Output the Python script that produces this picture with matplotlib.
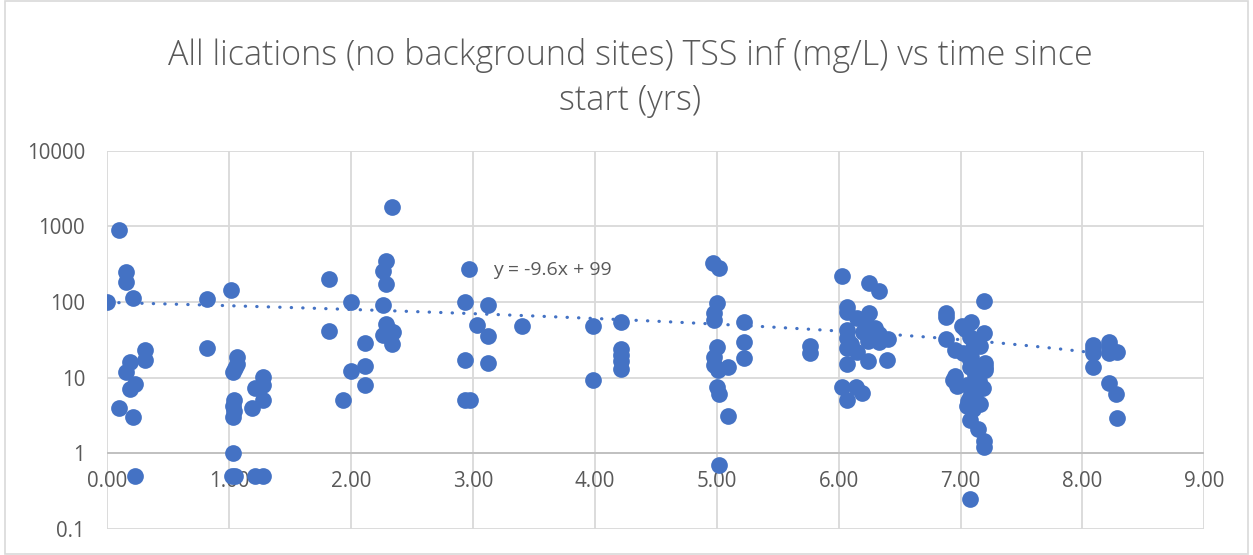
import matplotlib
matplotlib.use("Agg")
import matplotlib.pyplot as plt
import numpy as np
from matplotlib.patches import Rectangle

# ---- data ----
years = [
    0.0, 0.10, 0.15, 0.15, 0.21, 0.31, 0.31, 0.19, 0.15, 0.19, 0.23, 0.10, 0.21, 0.23,
    0.815, 1.015, 0.815, 1.06, 1.06, 1.03, 1.05, 1.04, 1.03, 1.04, 1.03, 1.035, 1.02, 1.05,
    1.21, 1.28, 1.28, 1.21, 1.28, 1.275, 1.19,
    1.816, 1.816, 1.936, 1.999, 2.0, 2.117, 2.116, 2.116, 2.338, 2.286, 2.264, 2.286, 2.264,
    2.286, 2.30, 2.341, 2.264, 2.333,
    2.97, 2.934, 3.126, 3.035, 3.12, 2.934, 3.12, 2.934, 2.975, 3.40, 3.987, 3.987,
    4.214, 4.214, 4.214, 4.214, 4.214,
    4.971, 5.021, 5.004, 4.977, 4.977, 5.223, 5.223, 5.223, 5.004, 4.977, 4.977, 5.012,
    5.09, 5.004, 5.021, 5.09, 5.021, 5.765, 5.765,
    6.03, 6.249, 6.33, 6.066, 6.07, 6.249, 6.148, 6.22, 6.30, 6.066, 6.249, 6.407, 6.066,
    6.24, 6.33, 6.066, 6.148, 6.07, 6.238, 6.40, 6.03, 6.14, 6.19, 6.066, 6.20, 6.33, 6.10, 6.27,
    7.192, 6.878, 6.878, 7.09, 7.01, 7.036, 7.192, 7.078, 6.878, 7.146, 7.16, 6.955, 7.02,
    7.078, 7.2, 7.078, 7.2, 6.955, 6.94, 6.97, 7.05, 7.104, 7.186, 7.063, 7.16, 7.05, 7.104,
    7.078, 7.146, 7.192, 7.192, 7.078, 7.12, 7.08, 7.15, 7.2, 7.13, 7.10, 7.12, 7.09,
    8.084, 8.084, 8.084, 8.084, 8.22, 8.22, 8.22, 8.28, 8.22, 8.275, 8.28,
]
tss = [
    100, 900, 250, 182, 112, 23, 17, 16, 12, 7.1, 8.2, 4.0, 3.0, 0.5,
    110, 145, 24.5, 18.6, 15.2, 12.0, 13.5, 5.1, 4.2, 3.6, 3.0, 1.0, 0.5, 0.5,
    0.5, 0.5, 10.3, 7.3, 8.0, 5.1, 4.0,
    202, 42, 5.0, 101, 12.3, 28.6, 14.3, 8.0, 1820, 352, 260, 173, 92,
    52, 44, 40, 37, 28,
    274, 101, 92, 49, 36, 17.2, 15.8, 5.0, 5.0, 48, 48, 9.4,
    54, 23.8, 20, 16.5, 13,
    331, 279, 98, 71, 58, 55, 29.4, 18.1, 25.8, 19, 14.8, 12.7,
    14, 7.5, 6.1, 3.1, 0.70, 26.3, 21.5,
    223, 180, 141, 87, 73, 71, 61, 55, 45, 43, 47, 32, 33,
    31, 30, 25, 22, 15, 16.5, 17, 7.5, 7.5, 6.3, 5.0, 40, 38, 28, 35,
    104, 72, 64, 55, 48, 44, 39, 35, 32, 31.6, 26, 23.3, 21,
    17.2, 13.9, 14, 15.5, 10.4, 9.4, 7.7, 8, 7, 7.2, 4.9, 4.5, 4.2, 3.8,
    2.75, 2.1, 1.45, 1.23, 0.25, 6, 5.5, 9, 12.5, 28, 25, 11, 19,
    27, 24, 21, 14, 30, 26, 21, 22, 8.6, 6.1, 2.95,
]
trend_slope = -9.6
trend_intercept = 99
x_ticks = [0, 1, 2, 3, 4, 5, 6, 7, 8, 9]
y_ticks = [0.1, 1, 10, 100, 1000, 10000]
y_tick_labels = ["0.1", "1", "10", "100", "1000", "10000"]
title = "All lications (no background sites) TSS inf (mg/L) vs time since\nstart (yrs)"
equation = "y = -9.6x + 99"

# ---- drawing ----
plt.rcParams['font.family'] = ['Open Sans', 'DejaVu Sans']
blue = "#4472C4"
grid_c = "#D9D9D9"
text_c = "#595959"

W, H = 1253, 555
fig = plt.figure(figsize=(W / 100, H / 100), dpi=100)
fig.patches.append(Rectangle((0.004, 0.002), 0.992, 0.996, transform=fig.transFigure,
                             fill=False, edgecolor=grid_c, linewidth=1.2))

left, right, top, bottom = 107.3, 1204.3, 150.7, 529.0
ax = fig.add_axes([left / W, 1 - bottom / H, (right - left) / W, (bottom - top) / H])
ax.set_yscale('log')
ax.set_xlim(0, 9)
ax.set_ylim(0.1, 10000)

for xv in x_ticks:
    ax.axvline(xv, color=grid_c, lw=1.3, zorder=0)
for yv in y_ticks:
    ax.axhline(yv, color=grid_c, lw=1.3, zorder=0)
ax.axhline(1, color="#BFBFBF", lw=1.3, zorder=0.5)

for s in ax.spines.values():
    s.set_visible(False)

ax.set_xticks(x_ticks)
ax.set_xticklabels([f"{v:.2f}" for v in x_ticks])
ax.set_yticks(y_ticks)
ax.set_yticklabels(y_tick_labels)
ax.yaxis.set_minor_locator(matplotlib.ticker.NullLocator())
ax.tick_params(axis='both', length=0, labelsize=14.8, labelcolor=text_c)
ax.tick_params(axis='y', pad=16)
ax.xaxis.set_ticks_position('bottom')
ax.spines['bottom'].set_position(('data', 1))
ax.tick_params(axis='x', pad=13)

ax.scatter(years, tss, s=145, color=blue, zorder=3, linewidths=0)

xt = np.linspace(min(years), max(years), 200)
ax.plot(xt, trend_slope * xt + trend_intercept, color=blue, lw=2.3,
        linestyle=(0, (0.1, 3.5)), dash_capstyle='round', zorder=2)

ax.text(3.165, 265, equation, fontsize=14, color=text_c, va='center', ha='left', zorder=4)

fig.text(0.503, 0.86, title, ha='center', va='center', fontsize=24.5, color=text_c,
         fontweight='light', linespacing=1.4)

fig.savefig("out.png", dpi=100)
